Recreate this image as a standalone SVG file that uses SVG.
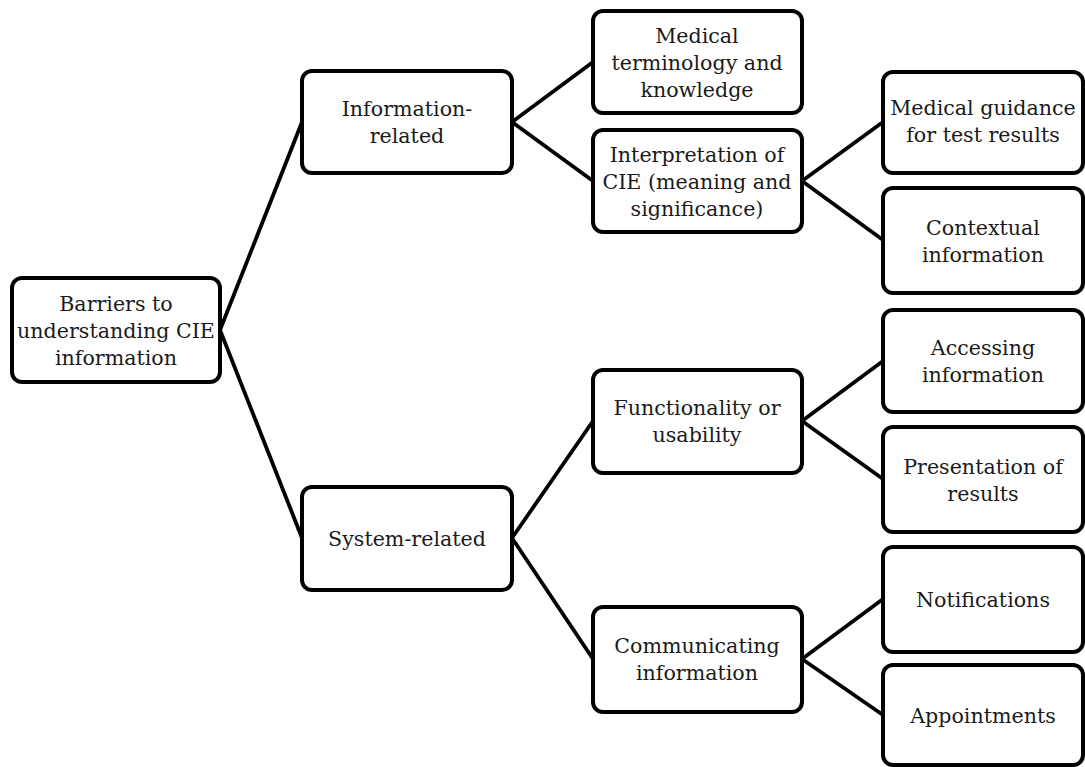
<svg xmlns="http://www.w3.org/2000/svg" width="1085" height="767" viewBox="0 0 1085 767">
<style>
.box{fill:#fff;stroke:#000;stroke-width:4}
.t{font-family:"DejaVu Serif","Liberation Serif",serif;font-size:20.6px;fill:#1a1a1a;text-anchor:middle}
.c line{stroke:#000;stroke-width:3.8;stroke-linecap:round}
</style>
<rect width="1085" height="767" fill="#fff"/>
<g class="c" id="connectors">
<line x1="220" y1="330" x2="302" y2="122"/>
<line x1="220" y1="330" x2="302" y2="538"/>
<line x1="512" y1="122" x2="593" y2="62"/>
<line x1="512" y1="122" x2="593" y2="181"/>
<line x1="512" y1="538" x2="593" y2="421"/>
<line x1="512" y1="538" x2="593" y2="659"/>
<line x1="802" y1="181" x2="883" y2="122"/>
<line x1="802" y1="181" x2="883" y2="240"/>
<line x1="802" y1="421" x2="883" y2="361"/>
<line x1="802" y1="421" x2="883" y2="479"/>
<line x1="802" y1="659" x2="883" y2="599"/>
<line x1="802" y1="659" x2="883" y2="715"/>
</g>
<g id="root"><rect class="box" x="12" y="278" width="208" height="104" rx="10"/>
<text class="t" x="116" y="311">Barriers to</text><text class="t" x="116" y="338">understanding CIE</text><text class="t" x="116" y="365">information</text></g>
<g id="info"><rect class="box" x="302" y="71" width="210" height="102" rx="10"/>
<text class="t" x="407" y="116">Information-</text><text class="t" x="407" y="143">related</text></g>
<g id="sys"><rect class="box" x="302" y="487" width="210" height="103" rx="10"/>
<text class="t" x="407" y="546">System-related</text></g>
<g id="med"><rect class="box" x="593" y="11" width="209" height="102" rx="10"/>
<text class="t" x="697" y="43">Medical</text><text class="t" x="697" y="70">terminology and</text><text class="t" x="697" y="97">knowledge</text></g>
<g id="interp"><rect class="box" x="593" y="130" width="209" height="102" rx="10"/>
<text class="t" x="697" y="162">Interpretation of</text><text class="t" x="697" y="189">CIE (meaning and</text><text class="t" x="697" y="216">significance)</text></g>
<g id="func"><rect class="box" x="593" y="370" width="209" height="103" rx="10"/>
<text class="t" x="697" y="415">Functionality or</text><text class="t" x="697" y="442">usability</text></g>
<g id="comm"><rect class="box" x="593" y="607" width="209" height="105" rx="10"/>
<text class="t" x="697" y="653">Communicating</text><text class="t" x="697" y="680">information</text></g>
<g id="guide"><rect class="box" x="883" y="72" width="200" height="101" rx="10"/>
<text class="t" x="983" y="115">Medical guidance</text><text class="t" x="983" y="142">for test results</text></g>
<g id="context"><rect class="box" x="883" y="188" width="200" height="105" rx="10"/>
<text class="t" x="983" y="235">Contextual</text><text class="t" x="983" y="262">information</text></g>
<g id="access"><rect class="box" x="883" y="310" width="200" height="102" rx="10"/>
<text class="t" x="983" y="355">Accessing</text><text class="t" x="983" y="382">information</text></g>
<g id="present"><rect class="box" x="883" y="427" width="200" height="105" rx="10"/>
<text class="t" x="983" y="474">Presentation of</text><text class="t" x="983" y="501">results</text></g>
<g id="notif"><rect class="box" x="883" y="547" width="200" height="105" rx="10"/>
<text class="t" x="983" y="607">Notifications</text></g>
<g id="appt"><rect class="box" x="883" y="665" width="200" height="100" rx="10"/>
<text class="t" x="983" y="723">Appointments</text></g>
</svg>
